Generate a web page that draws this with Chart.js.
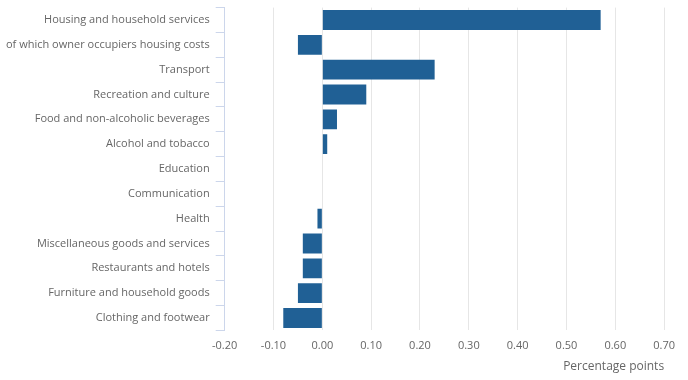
<!DOCTYPE html>
<html><head><meta charset="utf-8">
<script src="https://cdn.jsdelivr.net/npm/chart.js@4/dist/chart.umd.min.js"></script>
<style>html,body{margin:0;padding:0;background:#fff;overflow:hidden}#outer{width:688px;height:380px;position:relative;overflow:hidden}#wrap{width:684px;height:385px;position:absolute;left:0;top:-5px}</style>
</head><body><div id="outer"><div id="wrap"><canvas id="c"></canvas></div></div>
<script>
const categories = ["Housing and household services","of which owner occupiers housing costs","Transport","Recreation and culture","Food and non-alcoholic beverages","Alcohol and tobacco","Education","Communication","Health","Miscellaneous goods and services","Restaurants and hotels","Furniture and household goods","Clothing and footwear"];
const contributions = [0.57,-0.05,0.23,0.09,0.03,0.01,0,0,-0.01,-0.04,-0.04,-0.05,-0.08];
const xTicks = [-0.2,-0.1,0,0.1,0.2,0.3,0.4,0.5,0.6,0.7];
const axisTitle = "Percentage points";

new Chart(document.getElementById('c'), {
  type: 'bar',
  data: { labels: categories, datasets: [{ data: contributions, backgroundColor: '#206095', barPercentage: 0.8, categoryPercentage: 1 }] },
  options: {
    indexAxis: 'y', responsive: true, maintainAspectRatio: false, animation: false,
    layout: { padding: { top: 1, right: 14, left: 0, bottom: 6 } },
    plugins: { legend: { display: false }, tooltip: { enabled: false } },
    scales: {
      x: {
        min: xTicks[0], max: xTicks[xTicks.length-1],
        afterBuildTicks: (s) => { s.ticks = xTicks.map(v => ({ value: v })); },
        grid: { color: '#e6e6e6', drawTicks: false, lineWidth: 1 },
        border: { display: false },
        ticks: { color: '#666666', font: { family: 'Open Sans', size: 11 }, padding: 9, callback: (v) => Number(v).toFixed(2) },
        title: { display: true, text: axisTitle, align: 'end', color: '#666666', font: { family: 'Open Sans', size: 12 }, padding: { top: -2, bottom: 0 } }
      },
      y: {
        grid: { offset: true, drawOnChartArea: false, color: '#ccd6eb', tickLength: 9 },
        border: { display: true, color: '#ccd6eb' },
        ticks: { color: '#666666', font: { family: 'Open Sans', size: 11 }, padding: 6 }
      }
    }
  }
});
</script></body></html>
